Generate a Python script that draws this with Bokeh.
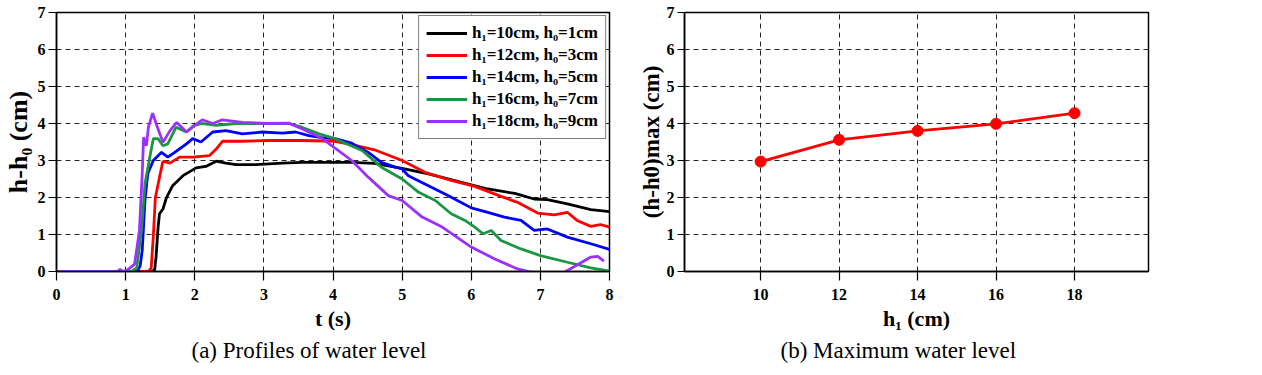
from bokeh.plotting import figure
from bokeh.layouts import row
from bokeh.models import Range1d, FixedTicker, Legend, LegendItem, Title
from bokeh.embed import file_html
from bokeh.resources import INLINE

# ---- data: (a) profiles of water level ----
t_10 = [0, 1.38, 1.42, 1.44, 1.47, 1.49, 1.54, 1.59, 1.68, 1.83, 2.02, 2.16, 2.31, 2.45, 2.6, 2.88, 3.27,
        3.55, 4.0, 4.27, 4.6, 5.0, 5.38, 5.86, 6.24, 6.63, 6.91, 7.1, 7.39, 7.73, 8.0]
v_10 = [0, 0, 0.05, 0.39, 1.2, 1.56, 1.69, 1.99, 2.32, 2.59, 2.8, 2.84, 2.98, 2.93, 2.89, 2.89, 2.93,
        2.95, 2.95, 2.95, 2.92, 2.79, 2.64, 2.41, 2.23, 2.11, 1.96, 1.94, 1.83, 1.67, 1.62]

t_12 = [0, 1.33, 1.37, 1.40, 1.43, 1.49, 1.54, 1.64, 1.78, 1.97, 2.21, 2.31, 2.40, 2.69, 3.07, 3.55, 4.03,
        4.27, 4.6, 5.0, 5.33, 5.71, 6.05, 6.43, 6.67, 6.96, 7.2, 7.39, 7.53, 7.73, 7.87, 8.0]
v_12 = [0, 0, 0.1, 0.93, 1.99, 2.55, 2.98, 2.93, 3.09, 3.09, 3.13, 3.31, 3.52, 3.52, 3.54, 3.54, 3.52,
        3.43, 3.29, 3.0, 2.68, 2.46, 2.30, 2.03, 1.87, 1.58, 1.53, 1.6, 1.38, 1.22, 1.27, 1.2]

t_14 = [0, 1.17, 1.21, 1.24, 1.28, 1.32, 1.40, 1.52, 1.61, 1.71, 1.88, 1.97, 2.09, 2.26, 2.45, 2.69, 2.98,
        3.27, 3.46, 3.65, 3.84, 4.03, 4.27, 4.51, 4.7, 4.9, 5.0, 5.09, 5.38, 5.67, 6.0, 6.24, 6.48, 6.72,
        6.91, 7.1, 7.39, 7.73, 8.0]
v_14 = [0, 0, 0.15, 0.57, 1.92, 2.64, 3.0, 3.22, 3.09, 3.22, 3.45, 3.59, 3.5, 3.77, 3.81, 3.72, 3.77,
        3.74, 3.77, 3.67, 3.62, 3.59, 3.47, 3.22, 2.95, 2.82, 2.77, 2.59, 2.32, 2.05, 1.72, 1.6, 1.47, 1.38,
        1.11, 1.15, 0.93, 0.75, 0.6]

t_16 = [0, 1.08, 1.16, 1.23, 1.28, 1.35, 1.40, 1.47, 1.54, 1.61, 1.73, 1.88, 1.99, 2.11, 2.31, 2.6, 3.07,
        3.36, 3.55, 3.8, 4.03, 4.42, 4.7, 5.0, 5.24, 5.48, 5.71, 5.91, 6.05, 6.17, 6.29, 6.43, 6.72, 7.0,
        7.39, 7.73, 8.0]
v_16 = [0, 0, 0.09, 1.11, 2.37, 3.09, 3.59, 3.59, 3.4, 3.45, 3.9, 3.77, 3.95, 4.0, 3.95, 4.0, 4.0,
        4.0, 3.9, 3.72, 3.59, 3.27, 2.82, 2.5, 2.14, 1.92, 1.56, 1.38, 1.2, 1.02, 1.11, 0.84, 0.61, 0.43,
        0.25, 0.1, 0.01]

t_18 = [0, 0.88, 0.92, 0.96, 1.04, 1.13, 1.2, 1.24, 1.26, 1.28, 1.30, 1.33, 1.39, 1.46, 1.54, 1.64, 1.74,
        1.88, 2.0, 2.11, 2.26, 2.4, 2.69, 3.07, 3.36, 3.55, 3.84, 4.27, 4.51, 4.8, 5.0, 5.29, 5.58, 6.0,
        6.34, 6.67, 7.0, 7.29, 7.48, 7.73, 7.83, 7.92]
v_18 = [0, 0, 0.06, 0, 0.06, 0.2, 1.11, 2.64, 3.63, 3.5, 3.4, 3.9, 4.28, 3.9, 3.49, 3.8, 4.03,
        3.77, 3.95, 4.1, 4.0, 4.1, 4.03, 4.0, 4.01, 3.86, 3.6, 3.0, 2.55, 2.05, 1.92, 1.47, 1.2, 0.66,
        0.34, 0.07, -0.08, -0.08, 0.12, 0.39, 0.41, 0.28]

series_labels = ["h\u2081=10cm, h\u2080=1cm", "h\u2081=12cm, h\u2080=3cm", "h\u2081=14cm, h\u2080=5cm",
                 "h\u2081=16cm, h\u2080=7cm", "h\u2081=18cm, h\u2080=9cm"]
series_colors = ["#000000", "#ff0000", "#0000ff", "#1a9641", "#9b30ff"]

# ---- data: (b) maximum water level ----
h1_values = [10, 12, 14, 16, 18]
hmax_values = [2.97, 3.56, 3.80, 3.99, 4.28]

y_ticks = [0, 1, 2, 3, 4, 5, 6, 7]
t_ticks = [0, 1, 2, 3, 4, 5, 6, 7, 8]
h_ticks = [10, 12, 14, 16, 18]

FONT = "Liberation Serif"


def style(p, xticks):
    p.outline_line_color = "black"
    p.outline_line_width = 1.5
    p.outline_line_alpha = 1
    p.background_fill_color = "white"
    p.border_fill_color = "white"
    p.xaxis.ticker = FixedTicker(ticks=xticks)
    p.yaxis.ticker = FixedTicker(ticks=y_ticks)
    for ax in (p.xaxis[0], p.yaxis[0]):
        ax.axis_line_color = "black"
        ax.axis_line_width = 1.5
        ax.major_tick_line_color = "black"
        ax.major_tick_line_width = 1.2
        ax.major_tick_in = 0
        ax.major_tick_out = 9
        ax.minor_tick_line_color = None
        ax.major_label_text_font = FONT
        ax.major_label_text_font_style = "bold"
        ax.major_label_text_font_size = "16px"
        ax.major_label_text_color = "black"
        ax.axis_label_text_font = FONT
        ax.axis_label_text_font_style = "bold"
        ax.axis_label_text_color = "black"
    p.xaxis.axis_label_text_font_size = "22px"
    p.xaxis.major_label_standoff = 8
    p.xaxis.axis_label_standoff = 3
    for g in (p.xgrid[0], p.ygrid[0]):
        g.grid_line_color = "black"
        g.grid_line_dash = "5 4"
        g.grid_line_width = 1
        g.grid_line_alpha = 0.85


def caption(p, text, offset):
    t = Title(text=text, align="left", offset=offset, standoff=5,
              text_font=FONT, text_font_size="23px", text_font_style="normal", text_color="black")
    p.add_layout(t, "below")


# ---- figure (a) ----
p1 = figure(width=631, height=374, output_backend="svg", toolbar_location=None,
            x_range=Range1d(0, 8), y_range=Range1d(0, 7),
            min_border_left=53, min_border_right=22, min_border_top=12, min_border_bottom=103)
style(p1, t_ticks)
p1.xaxis.axis_label = "t (s)"
p1.yaxis.axis_label = "h-h\u2080 (cm)"
p1.yaxis.axis_label_text_font_size = "26px"
p1.yaxis.major_tick_out = 8
p1.yaxis.major_label_standoff = 3
p1.yaxis.axis_label_standoff = 2

series_t = [t_10, t_12, t_14, t_16, t_18]
series_v = [v_10, v_12, v_14, v_16, v_18]
items = []
for tt, vv, col, lab in zip(series_t, series_v, series_colors, series_labels):
    r = p1.line(tt, vv, line_color=col, line_width=2.8)
    items.append(LegendItem(label=lab, renderers=[r]))

legend = Legend(items=items, location="top_right")
legend.margin = 3
legend.padding = 7
legend.spacing = 2
legend.label_height = 20
legend.glyph_height = 20
legend.glyph_width = 41
legend.label_standoff = 5
legend.border_line_color = "black"
legend.border_line_width = 1.5
legend.background_fill_color = "white"
legend.background_fill_alpha = 1
legend.label_text_font = FONT
legend.label_text_font_style = "bold"
legend.label_text_font_size = "17px"
legend.label_text_color = "black"
p1.add_layout(legend)
caption(p1, "(a) Profiles of water level", 135)

# ---- figure (b) ----
p2 = figure(width=630, height=374, output_backend="svg", toolbar_location=None,
            x_range=Range1d(8.06, 19.885), y_range=Range1d(0, 7),
            min_border_left=53, min_border_right=113, min_border_top=12, min_border_bottom=103)
style(p2, h_ticks)
p2.xaxis.axis_label = "h\u2081 (cm)"
p2.yaxis.axis_label = "(h-h0)max (cm)"
p2.yaxis.axis_label_text_font_size = "23px"
p2.yaxis.major_tick_out = 7
p2.yaxis.major_label_standoff = 3
p2.yaxis.axis_label_standoff = 0
p2.line(h1_values, hmax_values, line_color="#ff0000", line_width=2.8)
p2.scatter(h1_values, hmax_values, size=11, fill_color="#ff0000", line_color="#ff0000")
caption(p2, "(b) Maximum water level", 96)

layout = row(p1, p2)
open("out.html", "w").write(file_html(layout, INLINE))
